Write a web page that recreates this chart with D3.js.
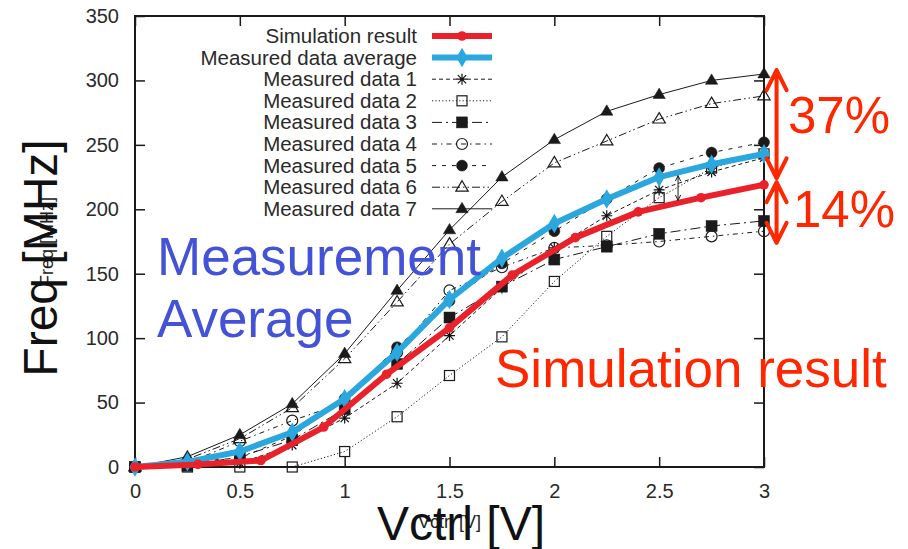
<!DOCTYPE html>
<html lang="en">
<head>
    <meta charset="UTF-8">
    <title>Freq vs Vctrl</title>
    <script src="https://d3js.org/d3.v7.min.js"></script>
    <style>
        body { margin: 0; background: #fff; }
        svg { display: block; font-family: "Liberation Sans", Arial, Helvetica, sans-serif; }
        .tick text { fill: #2a2a2a; font-size: 20px; }
        .tick line { stroke: #1a1a1a; stroke-width: 1.5px; }
    </style>
</head>
<body>
    <svg id="chart"></svg>

    <script>
        // Data
        const vctrl = [0, 0.25, 0.5, 0.75, 1, 1.25, 1.5, 1.75, 2, 2.25, 2.5, 2.75, 3];
        const vSim = [0, 0.3, 0.6, 0.9, 1.2, 1.5, 1.8, 2.1, 2.4, 2.7, 3.0];

        const simFreq = [0, 2, 5, 31, 72, 108, 149, 178, 198, 209, 219];
        const avgFreq = [0, 4, 12, 27, 53, 89, 130, 162, 189, 208, 225, 235, 243];

        const meas1 = [0, 1, 3, 17, 38, 65, 102, 139, 170, 195, 215, 229, 240];
        const meas2 = [0, 0, 0, 0, 12, 39, 71, 101, 144, 179, 209, 232, 243];
        const meas3 = [0, 1, 8, 21, 45, 80, 116, 140, 161, 171, 181, 187, 191];
        const meas4 = [0, 3, 20, 36, 50, 89, 137, 155, 170, 172, 175, 179, 183];
        const meas5 = [0, 4, 7, 24, 53, 93, 129, 158, 183, 208, 232, 244, 252];
        const meas6 = [0, 6, 22, 46, 84, 128, 173, 206, 236, 253, 270, 282, 288];
        const meas7 = [0, 8, 25, 49, 88, 137, 184, 225, 254, 276, 289, 300, 305];

        const xTicks = [0, 0.5, 1, 1.5, 2, 2.5, 3];
        const yTicks = [0, 50, 100, 150, 200, 250, 300, 350];

        // annotation arrows: [x, yFrom, yTo]
        const spreadArrows = [[3.06, 308, 224], [3.06, 221, 174]];
        const gapArrow = [2.59, 207, 226];

        const width = 908, height = 549;
        const svg = d3.select("#chart").attr("width", width).attr("height", height);

        const x = d3.scaleLinear().domain([0, 3]).range([135, 764]);
        const y = d3.scaleLinear().domain([0, 350]).range([467, 16]);

        const red = "#e8212b", blue = "#2aa7de", textRed = "#ff2600", textBlue = "#4452d8";

        // series styles
        const measured = [
            { name: "Measured data 1", values: meas1, dash: "4,3", marker: "star" },
            { name: "Measured data 2", values: meas2, dash: "1.2,2.2", marker: "squareOpen" },
            { name: "Measured data 3", values: meas3, dash: "10,4,2,4", marker: "square" },
            { name: "Measured data 4", values: meas4, dash: "5,4,1.5,4", marker: "circleOpen" },
            { name: "Measured data 5", values: meas5, dash: "4,6", marker: "circle" },
            { name: "Measured data 6", values: meas6, dash: "8,3,1.5,3,1.5,3", marker: "triOpen" },
            { name: "Measured data 7", values: meas7, dash: null, marker: "tri" }
        ];

        // axes with inward ticks on all four sides
        svg.append("g")
            .attr("transform", `translate(0,${y(0)})`)
            .call(d3.axisBottom(x).tickValues(xTicks).tickFormat(d3.format("~g"))
                .tickSizeInner(-10).tickSizeOuter(0).tickPadding(17));
        svg.append("g")
            .attr("transform", `translate(${x(0)},0)`)
            .call(d3.axisLeft(y).tickValues(yTicks).tickSizeInner(-10).tickSizeOuter(0).tickPadding(16));
        svg.append("g")
            .attr("transform", `translate(0,${y(350)})`)
            .call(d3.axisTop(x).tickValues(xTicks).tickFormat("").tickSizeInner(-10).tickSizeOuter(0));
        svg.append("g")
            .attr("transform", `translate(${x(3)},0)`)
            .call(d3.axisRight(y).tickValues(yTicks).tickFormat("").tickSizeInner(-10).tickSizeOuter(0));
        svg.selectAll(".domain").remove();

        svg.append("rect")
            .attr("x", x(0)).attr("y", y(350))
            .attr("width", x(3) - x(0)).attr("height", y(0) - y(350))
            .attr("fill", "none").attr("stroke", "#1a1a1a").attr("stroke-width", 2);

        // marker drawing
        function marker(g, type, cx, cy) {
            const s = 5.5;
            if (type === "star") {
                g.append("path")
                    .attr("d", `M${cx - s},${cy}H${cx + s}M${cx},${cy - s}V${cy + s}` +
                        `M${cx - s * 0.75},${cy - s * 0.75}L${cx + s * 0.75},${cy + s * 0.75}` +
                        `M${cx - s * 0.75},${cy + s * 0.75}L${cx + s * 0.75},${cy - s * 0.75}`)
                    .attr("stroke", "#111").attr("stroke-width", 1.2).attr("fill", "none");
            } else if (type === "square" || type === "squareOpen") {
                const open = type === "squareOpen";
                const h = open ? 5 : 5.5;
                g.append("rect").attr("x", cx - h).attr("y", cy - h).attr("width", 2 * h).attr("height", 2 * h)
                    .attr("fill", open ? "none" : "#1a1a1a").attr("stroke", "#1a1a1a").attr("stroke-width", open ? 1.2 : 0.5);
            } else if (type === "circle" || type === "circleOpen") {
                const open = type === "circleOpen";
                g.append("circle").attr("cx", cx).attr("cy", cy).attr("r", 5.5)
                    .attr("fill", open ? "none" : "#1a1a1a").attr("stroke", "#1a1a1a").attr("stroke-width", open ? 1.2 : 0.5);
            } else if (type === "tri" || type === "triOpen") {
                const open = type === "triOpen";
                const r = 6.5;
                g.append("path")
                    .attr("d", `M${cx},${cy - r}L${cx + r * 0.95},${cy + r * 0.6}L${cx - r * 0.95},${cy + r * 0.6}Z`)
                    .attr("fill", open ? "none" : "#1a1a1a").attr("stroke", "#1a1a1a").attr("stroke-width", open ? 1.2 : 0.5);
            } else if (type === "dot") {
                g.append("circle").attr("cx", cx).attr("cy", cy).attr("r", 4.8).attr("fill", red);
            } else if (type === "diamond") {
                g.append("path")
                    .attr("d", d3.symbol().type(d3.symbolDiamond).size(110)())
                    .attr("transform", `translate(${cx},${cy})`)
                    .attr("fill", blue);
            }
        }

        const line = d3.line().x(d => x(d[0])).y(d => y(d[1]));

        // measured series
        const plot = svg.append("g");
        measured.forEach(s => {
            const pts = vctrl.map((v, i) => [v, s.values[i]]);
            plot.append("path").attr("d", line(pts))
                .attr("fill", "none").attr("stroke", "#1a1a1a").attr("stroke-width", 1)
                .attr("stroke-dasharray", s.dash);
            const mg = plot.append("g");
            pts.forEach(p => marker(mg, s.marker, x(p[0]), y(p[1])));
        });

        // measured average
        const avgPts = vctrl.map((v, i) => [v, avgFreq[i]]);
        plot.append("path").attr("d", line(avgPts))
            .attr("fill", "none").attr("stroke", blue).attr("stroke-width", 6).attr("stroke-linejoin", "round");
        avgPts.forEach(p => marker(plot, "diamond", x(p[0]), y(p[1])));

        // simulation
        const simPts = vSim.map((v, i) => [v, simFreq[i]]);
        plot.append("path").attr("d", line(simPts))
            .attr("fill", "none").attr("stroke", red).attr("stroke-width", 6).attr("stroke-linejoin", "round");
        simPts.forEach(p => marker(plot, "dot", x(p[0]), y(p[1])));

        // legend
        const legendItems = [
            { name: "Simulation result", color: red, width: 6, dash: null, marker: "dot" },
            { name: "Measured data average", color: blue, width: 6, dash: null, marker: "diamond" }
        ].concat(measured.map(s => ({ name: s.name, color: "#1a1a1a", width: 1, dash: s.dash, marker: s.marker })));

        const legend = svg.append("g");
        legendItems.forEach((d, i) => {
            const cy = 36 + i * 21.6;
            legend.append("text").attr("x", 417).attr("y", cy + 7)
                .attr("text-anchor", "end").attr("font-size", 20.5).attr("fill", "#2a2a2a").text(d.name);
            legend.append("line").attr("x1", 432).attr("x2", 492).attr("y1", cy).attr("y2", cy)
                .attr("stroke", d.color).attr("stroke-width", d.width).attr("stroke-dasharray", d.dash);
            marker(legend, d.marker, 462, cy);
        });

        // original small axis labels
        svg.append("text").attr("x", 449.5).attr("y", 528).attr("text-anchor", "middle")
            .attr("font-size", 18).attr("fill", "#222").text("Vctrl [V]");
        svg.append("text").attr("transform", "translate(53,241.5) rotate(-90)").attr("text-anchor", "middle")
            .attr("font-size", 18).attr("fill", "#222").text("Freq [MHz]");

        // big axis labels
        svg.append("text").attr("x", 461).attr("y", 540).attr("text-anchor", "middle")
            .attr("font-size", 48).attr("fill", "#111").text("Vctrl [V]");
        svg.append("text").attr("transform", "translate(57,258) rotate(-90)").attr("text-anchor", "middle")
            .attr("font-size", 48).attr("fill", "#111").text("Freq [MHz]");

        // annotations
        svg.append("text").attr("x", 157).attr("y", 275).attr("font-size", 53).attr("fill", textBlue).text("Measurement");
        svg.append("text").attr("x", 157).attr("y", 337).attr("font-size", 53).attr("fill", textBlue).text("Average");
        svg.append("text").attr("x", 495).attr("y", 387).attr("font-size", 53).attr("fill", textRed).text("Simulation result");

        function doubleArrow(g, xv, y0, y1, color, w, head, len) {
            const px = x(xv), a = y(y0), b = y(y1);
            const top = Math.min(a, b), bot = Math.max(a, b);
            g.append("path")
                .attr("d", `M${px},${top}V${bot}` +
                    `M${px - head},${top + len}L${px},${top}L${px + head},${top + len}` +
                    `M${px - head},${bot - len}L${px},${bot}L${px + head},${bot - len}`)
                .attr("fill", "none").attr("stroke", color).attr("stroke-width", w)
                .attr("stroke-linecap", "round").attr("stroke-linejoin", "round");
        }

        spreadArrows.forEach(a => doubleArrow(svg, a[0], a[1], a[2], textRed, 4, 10, 20));
        doubleArrow(svg, gapArrow[0], gapArrow[1], gapArrow[2], "#1a1a1a", 1, 2.5, 5);

        svg.append("text").attr("x", x(3) + 24).attr("y", 133).attr("font-size", 51).attr("fill", textRed).text("37%");
        svg.append("text").attr("x", x(3) + 29).attr("y", 227).attr("font-size", 51).attr("fill", textRed).text("14%");
    </script>
</body>
</html>
